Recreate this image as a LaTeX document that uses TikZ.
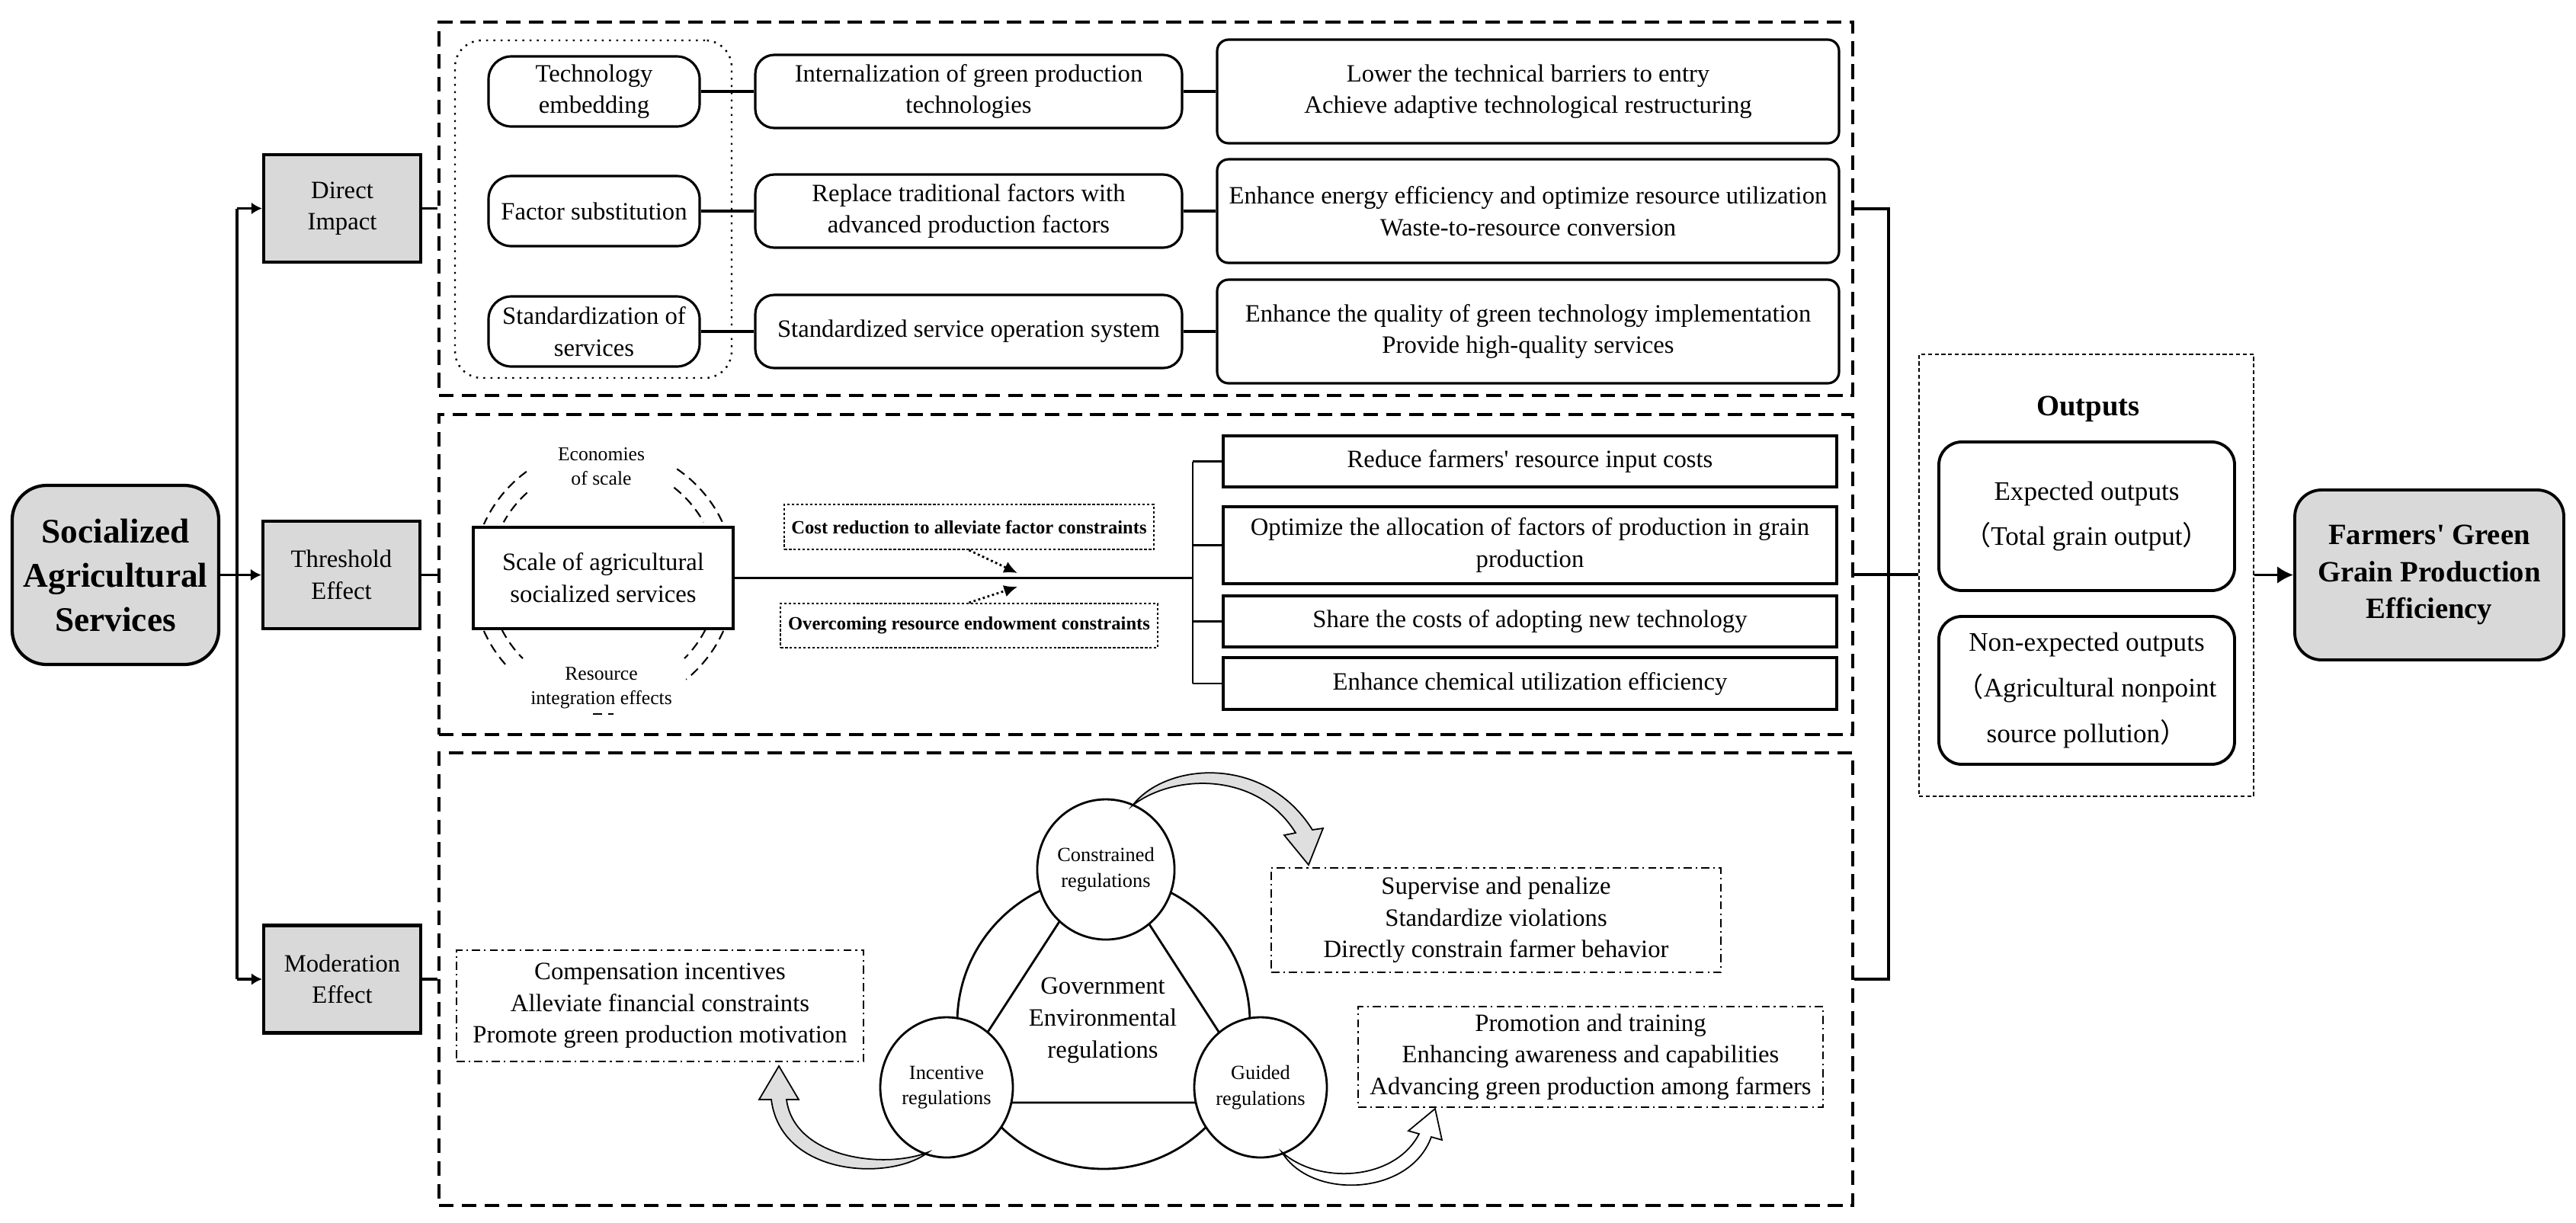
\documentclass[tikz,border=0pt]{standalone}
\usepackage{fontspec}
\setmainfont{Liberation Serif}
\newfontfamily\cjk{Noto Sans CJK SC}
\usetikzlibrary{arrows.meta,shapes.geometric}
\definecolor{boxgray}{HTML}{D9D9D9}
\tikzset{
  txt/.style={font=\fontsize{9.3}{11.8}\selectfont, align=center},
  conn/.style={line width=1pt},
  tip/.style={-{Latex[length=4pt,width=4.5pt]}},
  effframe/.style={draw, line width=1.2pt, dash pattern=on 5.5pt off 3pt, minimum width=18.55cm, inner sep=0pt},
  catbox/.style={txt, draw, line width=1.2pt, fill=boxgray, minimum width=2.06cm, minimum height=1.41cm, inner sep=0pt},
  pillbox/.style={txt, draw, line width=0.9pt, rounded corners=0.3cm, inner sep=0pt},
  plainbox/.style={txt, draw, line width=0.9pt, minimum width=8.05cm, inner sep=0pt},
  tagbox/.style={draw, line width=0.6pt, dash pattern=on 1pt off 0.7pt, inner sep=0pt, font=\fontsize{7}{8.5}\selectfont\bfseries},
  ringdash/.style={line width=0.6pt, dash pattern=on 3.5pt off 2.2pt},
  smalltxt/.style={font=\fontsize{7.3}{9.1}\selectfont, align=center},
  regnode/.style={draw, ellipse, fill=white, line width=0.8pt, minimum width=1.74cm, minimum height=1.84cm, inner sep=0pt, font=\fontsize{7.5}{9.6}\selectfont, align=center},
  notebox/.style={txt, draw, line width=0.6pt, dash pattern=on 3pt off 1.5pt on 0.6pt off 1.5pt, inner sep=0pt},
  outbox/.style={draw, line width=1.1pt, rounded corners=0.3cm, minimum width=3.88cm, minimum height=1.95cm, inner sep=0pt, font=\fontsize{10}{17}\selectfont, align=center},
  bentarrow/.style={draw, line width=0.5pt, fill=gray!25},
}
\begin{document}
\begin{tikzpicture}
\useasboundingbox (0,0) rectangle (33.8,-16.04);
% dashed frames
\node[effframe, minimum height=4.90cm] (frA) at (15.035,-2.74) {};
\node[effframe, minimum height=4.20cm] (frB) at (15.035,-7.54) {};
\node[effframe, minimum height=5.94cm] (frC) at (15.035,-12.85) {};
% left side
\node[catbox, rounded corners=0.45cm, minimum width=2.71cm, minimum height=2.35cm, font=\fontsize{12.9}{16.5}\selectfont\bfseries] (soc) at (1.515,-7.545) {Socialized\\Agricultural\\Services};
\node[catbox] (dir) at (4.49,-2.735) {Direct\\Impact};
\node[catbox] (thr) at (4.48,-7.545) {Threshold\\Effect};
\node[catbox] (mod) at (4.49,-12.85) {Moderation\\Effect};
\coordinate (tTop) at (3.11,-2.735);
\coordinate (tBot) at (3.11,-12.85);
\draw[conn] (tTop) -- (tBot);
\draw[conn, tip] (tTop) -- (dir.west);
\draw[conn, tip] (tBot) -- (mod.west);
\draw[conn, tip] (soc.east) -- (thr.west);
\draw[conn] (dir.east) -- (dir.east -| frA.west);
\draw[conn] (thr.east) -- (thr.east -| frB.west);
\draw[conn] (mod.east) -- (mod.east -| frC.west);
% direct impact
\node[draw, dotted, line width=0.7pt, rounded corners=0.35cm, minimum width=3.63cm, minimum height=4.43cm] (grp) at (7.785,-2.745) {};
\node[pillbox, minimum width=2.77cm, minimum height=0.92cm] (te) at (7.795,-1.20) {Technology\\embedding};
\node[pillbox, minimum width=2.77cm, minimum height=0.92cm] (fs) at (7.795,-2.77) {Factor substitution};
\node[pillbox, minimum width=2.77cm, minimum height=0.92cm] (ss) at (7.795,-4.35) {Standardization of\\services};
\node[pillbox, rounded corners=0.25cm, minimum width=5.60cm, minimum height=0.96cm] (m1) at (12.71,-1.20) {Internalization of green production\\technologies};
\node[pillbox, rounded corners=0.25cm, minimum width=5.60cm, minimum height=0.96cm] (m2) at (12.71,-2.77) {Replace traditional factors with\\advanced production factors};
\node[pillbox, rounded corners=0.25cm, minimum width=5.60cm, minimum height=0.96cm] (m3) at (12.71,-4.35) {Standardized service operation system};
\node[pillbox, rounded corners=0.15cm, minimum width=8.16cm, minimum height=1.36cm] (r1) at (20.05,-1.20) {Lower the technical barriers to entry\\Achieve adaptive technological restructuring};
\node[pillbox, rounded corners=0.15cm, minimum width=8.16cm, minimum height=1.36cm] (r2) at (20.05,-2.77) {Enhance energy efficiency and optimize resource utilization\\Waste-to-resource conversion};
\node[pillbox, rounded corners=0.15cm, minimum width=8.16cm, minimum height=1.36cm] (r3) at (20.05,-4.35) {Enhance the quality of green technology implementation\\Provide high-quality services};
\draw[conn] (te) -- (m1);
\draw[conn] (fs) -- (m2);
\draw[conn] (ss) -- (m3);
\draw[conn] (m1) -- (r1);
\draw[conn] (m2) -- (r2);
\draw[conn] (m3) -- (r3);
% threshold effect
\draw[ringdash, shift={(7.92,-7.58)}] (126:1.72) arc[start angle=126, end angle=156, radius=1.72];
\draw[ringdash, shift={(7.92,-7.58)}] (56:1.72) arc[start angle=56, end angle=24, radius=1.72];
\draw[ringdash, shift={(7.92,-7.58)}] (204:1.72) arc[start angle=204, end angle=222, radius=1.72];
\draw[ringdash, shift={(7.92,-7.58)}] (-24:1.72) arc[start angle=-24, end angle=-51, radius=1.72];
\draw[ringdash, shift={(7.92,-7.58)}] (132:1.50) arc[start angle=132, end angle=151, radius=1.50];
\draw[ringdash, shift={(7.92,-7.58)}] (52:1.50) arc[start angle=52, end angle=29, radius=1.50];
\draw[ringdash, shift={(7.92,-7.58)}] (207:1.50) arc[start angle=207, end angle=225, radius=1.50];
\draw[ringdash, shift={(7.92,-7.58)}] (-27:1.50) arc[start angle=-27, end angle=-45, radius=1.50];
\draw[ringdash] (7.78,-9.37) -- (8.05,-9.37);
\node[txt, draw, line width=0.9pt, fill=white, minimum width=3.41cm, minimum height=1.33cm, inner sep=0pt, font=\fontsize{9.3}{12}\selectfont] (sc) at (7.915,-7.585) {Scale of agricultural\\socialized services};
\node[smalltxt] (eco) at (7.89,-6.12) {Economies\\of scale};
\node[smalltxt] (res) at (7.89,-9.03) {Resource\\integration effects};
\node[tagbox, minimum width=4.85cm, minimum height=0.59cm] (cost) at (12.715,-6.915) {Cost reduction to alleviate factor constraints};
\node[tagbox, minimum width=4.95cm, minimum height=0.58cm] (over) at (12.715,-8.21) {Overcoming resource endowment constraints};
\coordinate (tipA) at (13.35,-7.52);
\coordinate (tipB) at (13.35,-7.70);
\draw[densely dotted, line width=0.8pt, -{Latex[length=5pt,width=4.5pt]}] (cost.south) -- (tipA);
\draw[densely dotted, line width=0.8pt, -{Latex[length=5pt,width=4.5pt]}] (over.north) -- (tipB);
\node[plainbox, minimum height=0.67cm] (b1) at (20.075,-6.055) {Reduce farmers\textquotesingle\ resource input costs};
\node[plainbox, minimum height=1.01cm] (b2) at (20.075,-7.155) {Optimize the allocation of factors of production in grain\\production};
\node[plainbox, minimum height=0.67cm] (b3) at (20.075,-8.155) {Share the costs of adopting new technology};
\node[plainbox, minimum height=0.68cm] (b4) at (20.075,-8.97) {Enhance chemical utilization efficiency};
\coordinate (brk) at (15.65,-7.585);
\draw[conn] (sc.east) -- (brk);
\draw[line width=0.8pt] (b1.west -| brk) -- (b4.west -| brk);
\draw[line width=0.8pt] (b1.west -| brk) -- (b1.west);
\draw[line width=0.8pt] (b2.west -| brk) -- (b2.west);
\draw[line width=0.8pt] (b3.west -| brk) -- (b3.west);
\draw[line width=0.8pt] (b4.west -| brk) -- (b4.west);
% moderation effect
\draw[line width=0.8pt] (14.48,-13.42) circle (1.92);
\coordinate (vTop) at (14.48,-11.20);
\coordinate (vLeft) at (12.36,-14.47);
\coordinate (vRight) at (16.59,-14.47);
\draw[line width=0.8pt] (vTop) -- (vLeft) -- (vRight) -- cycle;
\node[regnode] (con) at (14.51,-11.41) {Constrained\\regulations};
\node[regnode] (inc) at (12.42,-14.27) {Incentive\\regulations};
\node[regnode] (gui) at (16.54,-14.27) {Guided\\regulations};
\node[txt, font=\fontsize{9.3}{12}\selectfont] (gov) at (14.47,-13.39) {Government\\Environmental\\regulations};
\node[notebox, minimum width=5.34cm, minimum height=1.46cm] (comp) at (8.66,-13.20) {Compensation incentives\\Alleviate financial constraints\\Promote green production motivation};
\node[notebox, minimum width=5.90cm, minimum height=1.37cm] (sup) at (19.63,-12.075) {Supervise and penalize\\Standardize violations\\Directly constrain farmer behavior};
\node[notebox, minimum width=6.10cm, minimum height=1.32cm] (pro) at (20.87,-13.87) {Promotion and training\\Enhancing awareness and capabilities\\Advancing green production among farmers};
% bent arrows
\filldraw[bentarrow] (14.86,-10.57) .. controls (15.30,-10.00) and (16.60,-9.90) .. (17.22,-10.89) -- (17.36,-10.87) -- (17.17,-11.35) -- (16.85,-10.96) -- (17.00,-10.93) .. controls (16.50,-10.12) and (15.40,-10.15) .. (14.86,-10.57) -- cycle;
\filldraw[bentarrow] (12.18,-15.12) .. controls (11.70,-15.50) and (10.25,-15.45) .. (10.12,-14.43) -- (9.96,-14.43) -- (10.22,-13.99) -- (10.48,-14.43) -- (10.32,-14.43) .. controls (10.42,-15.20) and (11.60,-15.35) .. (12.18,-15.12) -- cycle;
\filldraw[bentarrow, fill=white] (16.82,-15.12) .. controls (17.20,-15.75) and (18.50,-15.70) .. (18.78,-14.92) -- (18.92,-14.96) -- (18.83,-14.55) -- (18.48,-14.84) -- (18.62,-14.88) .. controls (18.30,-15.50) and (17.30,-15.55) .. (16.82,-15.12) -- cycle;
% outputs
\coordinate (rTop) at (24.78,-2.74);
\coordinate (rBot) at (24.78,-12.85);
\draw[conn] (frA.east) -- (rTop) -- (rBot) -- (frC.east);
\node[draw, line width=0.7pt, dash pattern=on 1.5pt off 1pt, minimum width=4.39cm, minimum height=5.80cm, inner sep=0pt] (outs) at (27.375,-7.55) {};
\draw[conn] (frB.east) -- (frB.east -| outs.west);
\node[font=\fontsize{11}{13}\selectfont\bfseries] (otitle) at (27.40,-5.37) {Outputs};
\node[outbox] (out1) at (27.38,-6.775) {Expected outputs\\{\cjk （}Total grain output{\cjk ）}};
\node[outbox, minimum height=1.94cm] (out2) at (27.38,-9.06) {Non-expected outputs\\{\cjk （}Agricultural nonpoint\\source pollution{\cjk ）}};
\node[catbox, line width=1.1pt, rounded corners=0.35cm, minimum width=3.53cm, minimum height=2.23cm, font=\fontsize{11}{13.7}\selectfont\bfseries] (farm) at (31.875,-7.545) {Farmers\textquotesingle\ Green\\Grain Production\\Efficiency};
\draw[conn, -{Latex[length=6pt,width=6.5pt]}] (outs.east |- farm.west) -- (farm.west);
\end{tikzpicture}
\end{document}
